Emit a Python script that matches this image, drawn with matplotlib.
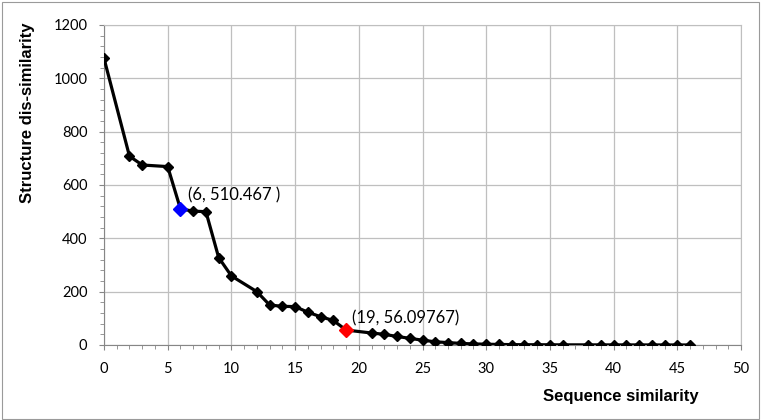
import matplotlib
matplotlib.use("Agg")
import matplotlib.pyplot as plt
from matplotlib.patches import Rectangle
from matplotlib.ticker import MultipleLocator

# Data
seq_sim = [0, 2, 3, 5, 6, 7, 8, 9, 10, 12, 13, 14, 15, 16, 17, 18, 19,
           21, 22, 23, 24, 25, 26, 27, 28, 29, 30, 31, 32, 33, 34, 35, 36,
           38, 39, 40, 41, 42, 43, 44, 45, 46]
struct_dis = [1075, 708, 675, 669, 510.467, 502, 500, 328, 259, 200, 150, 145, 144,
              123, 106, 92, 56.09767,
              45, 40, 32, 25, 18, 12, 9, 6, 4, 3, 2, 1.5, 1, 1, 0.8, 0.6,
              0.5, 0.5, 0.4, 0.4, 0.3, 0.3, 0.2, 0.2, 0.1]
hl_blue = (6, 510.467)
hl_red = (19, 56.09767)

plt.rcParams['font.family'] = ['Lato', 'DejaVu Sans']
bold_font = ['Liberation Sans', 'DejaVu Sans']

fig = plt.figure(figsize=(7.61, 4.20), dpi=100)
ax = fig.add_axes([104 / 761, 1 - 345 / 420, 637 / 761, 320 / 420])

# outer chart border
fig.patches.append(Rectangle((0.002, 0.003), 0.995, 0.993, transform=fig.transFigure,
                             fill=False, edgecolor='#9a9a9a', linewidth=0.8))

ax.plot(seq_sim, struct_dis, color='black', linewidth=2.3, marker='D',
        markersize=4.8, markerfacecolor='black', markeredgecolor='black', zorder=3)
ax.plot(*hl_blue, marker='D', markersize=7.5, color='#0000ff', zorder=4, linestyle='none')
ax.plot(*hl_red, marker='D', markersize=7.5, color='#ff0000', zorder=4, linestyle='none')

ax.text(hl_blue[0] + 0.6, hl_blue[1] + 50, "(6, 510.467 )", fontsize=12, va='center')
ax.text(hl_red[0] + 0.5, hl_red[1] + 45, "(19, 56.09767)", fontsize=12, va='center')

ax.set_xlim(0, 50)
ax.set_ylim(0, 1200)
ax.xaxis.set_major_locator(MultipleLocator(5))
ax.xaxis.set_minor_locator(MultipleLocator(1))
ax.yaxis.set_major_locator(MultipleLocator(200))
ax.yaxis.set_minor_locator(MultipleLocator(40))
ax.grid(True, which='major', color='#bfbfbf', linewidth=0.9)
ax.set_axisbelow(True)

for side in ['top', 'right']:
    ax.spines[side].set_color('#bfbfbf')
for side in ['left', 'bottom']:
    ax.spines[side].set_color('#868686')
ax.tick_params(which='major', length=3.5, color='#868686', labelsize=10.5)
ax.tick_params(axis='y', which='major', pad=8.5)
ax.tick_params(axis='x', which='major', pad=8.5)
ax.tick_params(which='minor', length=3, color='#868686')

ax.set_ylabel("Structure dis-similarity", fontsize=12, fontweight='bold', family=bold_font)
ax.yaxis.set_label_coords(-0.108, 0.727)
fig.text(621 / 761, 1 - 396 / 420, "Sequence similarity", fontsize=12,
         fontweight='bold', ha='center', va='center', family=bold_font)

fig.savefig("out.png", dpi=100)
